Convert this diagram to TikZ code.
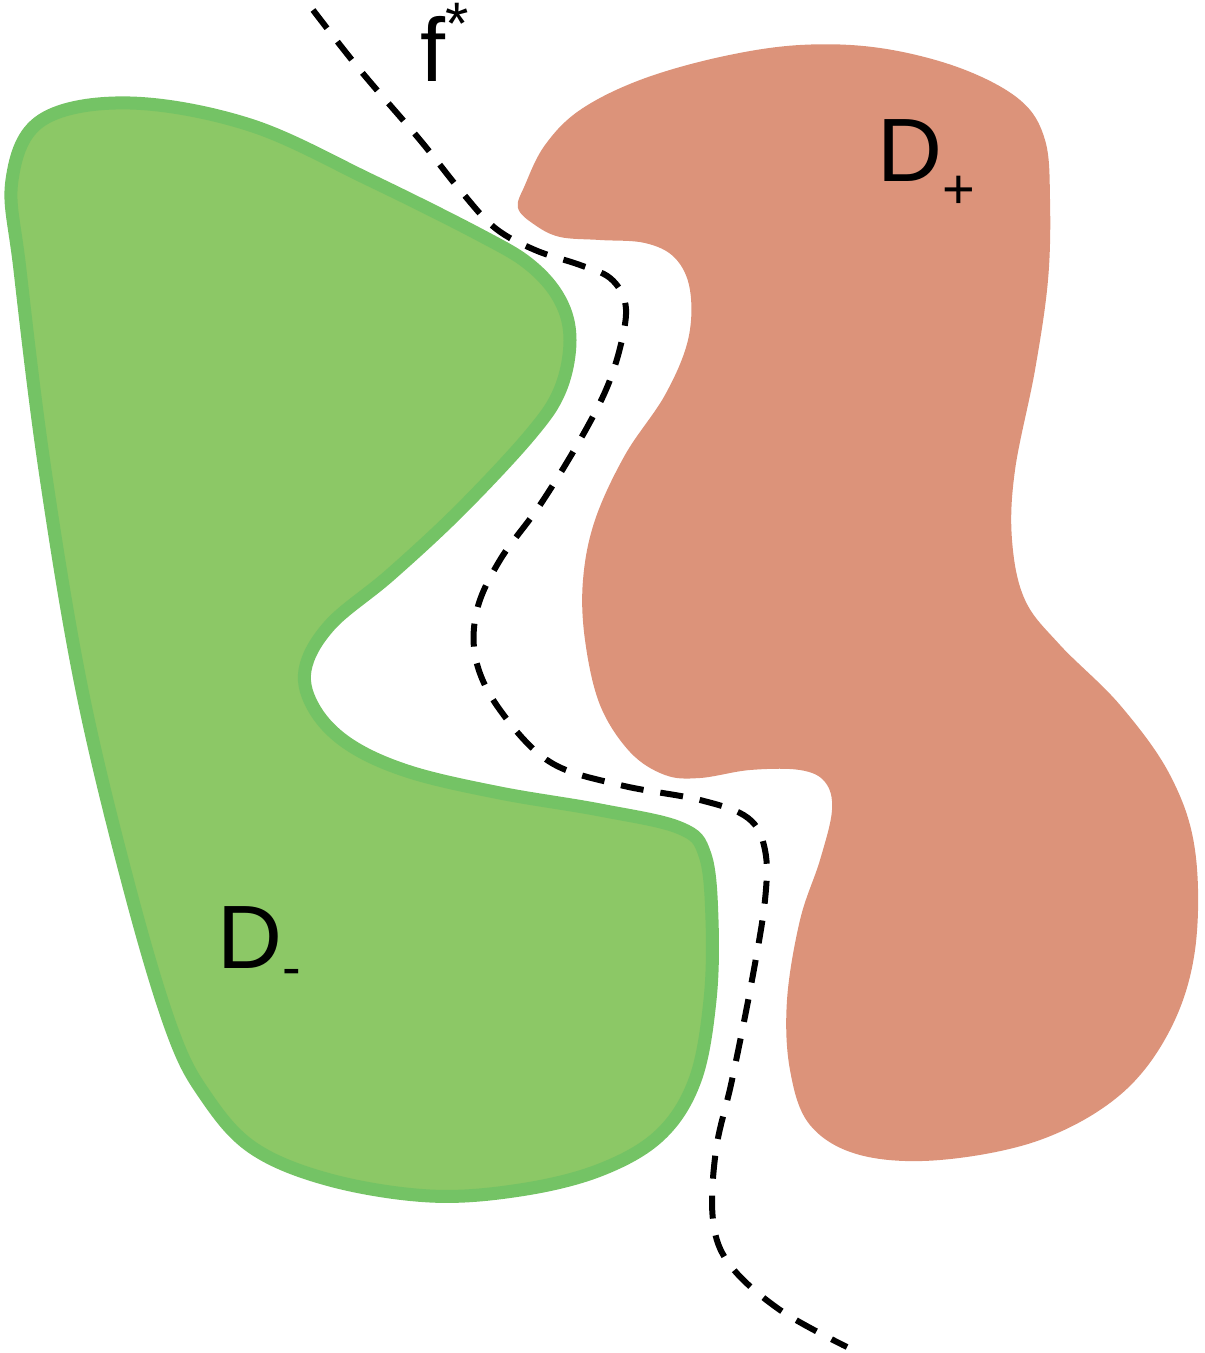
\documentclass[tikz,border=0pt]{standalone}
\usepackage{fontspec}
\setmainfont{Liberation Sans}
\definecolor{gfill}{HTML}{8CC866}
\definecolor{gline}{HTML}{74C365}
\definecolor{salmon}{HTML}{DC937A}
\begin{document}
\begin{tikzpicture}[x=0.5pt,y=-0.5pt,
  blobminus/.style={fill=gfill,draw=gline,line width=6.5pt,line join=round},
  blobplus/.style={fill=salmon},
  boundary/.style={line width=3pt,dash pattern=on 11.5pt off 8.5pt},
  lbl/.style={inner sep=0pt,anchor=base west,font=\fontsize{45}{50}\selectfont}]
\useasboundingbox (0,0) rectangle (1204,1353);
% D- region
\draw[blobminus] plot[smooth cycle,tension=0.6] coordinates {
 (42,120) (130,103) (250,125) (370,180) (480,235) (530,265) (560,300) (570,340)
 (560,390) (530,435) (460,510) (390,575) (330,625) (305,670) (315,710) (350,745)
 (410,772) (500,793) (600,810) (680,828) (705,855) (712,920) (710,1000) (695,1080)
 (660,1135) (600,1170) (520,1190) (430,1196) (330,1180) (253,1148) (205,1095)
 (172,1030) (130,890) (82,690) (45,470) (20,270) (12,180)};
% D+ region
\fill[blobplus] plot[smooth cycle,tension=0.6] coordinates {
 (525,185) (545,145) (580,110) (640,80) (720,57) (800,45) (880,48) (960,68)
 (1020,100) (1045,140) (1050,200) (1048,280) (1035,370) (1015,470) (1012,540)
 (1025,600) (1060,645) (1120,705) (1170,775) (1195,850) (1195,950) (1170,1030)
 (1120,1095) (1040,1140) (940,1160) (860,1155) (810,1125) (790,1070) (787,1000)
 (800,920) (820,860) (832,810) (825,782) (800,770) (750,770) (700,778) (665,775)
 (630,752) (600,705) (585,640) (583,580) (595,520) (625,455) (665,395) (688,340)
 (690,290) (675,258) (645,243) (600,240) (560,237) (535,225) (518,208)};
% boundary f*
\draw[boundary] plot[smooth,tension=0.6] coordinates {
 (313,10) (360,70) (420,140) (460,190) (495,228) (535,250) (580,265) (610,278)
 (625,302) (623,335) (608,385) (580,440) (540,505) (500,560) (477,610) (476,660)
 (500,710) (550,762) (620,785) (700,800) (748,818) (765,850) (765,900) (752,980)
 (732,1080) (716,1150) (713,1220) (730,1265) (780,1310) (847,1347)};
% labels
\node[lbl] (fstar) at (420,82) {f\raisebox{0.42em}[0pt][0pt]{\fontsize{30}{30}\selectfont *}};
\node[lbl] (dplus) at (877,182) {D\raisebox{-0.3em}{\fontsize{28}{28}\selectfont +}};
\node[lbl] (dminus) at (217,968) {D\raisebox{-0.2em}{\fontsize{28}{28}\selectfont -}};
\end{tikzpicture}
\end{document}
